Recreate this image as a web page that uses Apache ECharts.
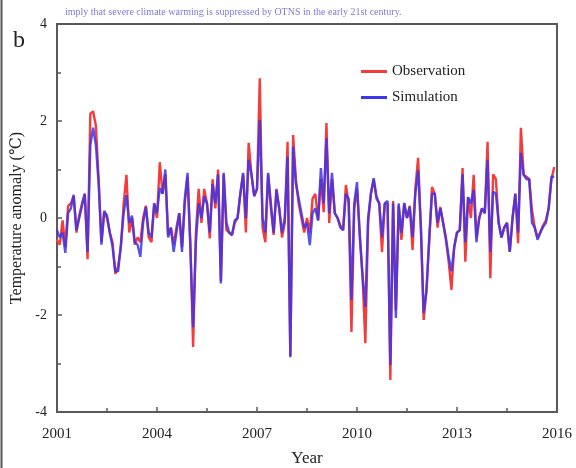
<!DOCTYPE html>
<html>
<head>
<meta charset="utf-8">
<script src="https://cdn.jsdelivr.net/npm/echarts@6/dist/echarts.min.js"></script>
<style>html,body{margin:0;padding:0;background:#fff;}#c{width:576px;height:468px;}</style>
</head>
<body>
<div id="c"></div>
<script>
// Monthly anomalies, Jan 2001 .. Dec 2015
const observation = [
  -0.45, -0.55, -0.05, -0.6, 0.25, 0.3, 0.45, -0.3, 0.05, 0.3, 0.5, -0.85,
  2.15, 2.2, 1.9, 0.8, -0.5, 0.12, 0.0, -0.3, -0.5, -1.15, -1.0, -0.6,
  0.3, 0.89, -0.3, 0.0, -0.55, -0.4, -0.5, 0.0, 0.25, -0.4, -0.5, 0.3,
  0.0, 1.15, 0.5, 0.9, -0.35, -0.2, -0.55, -0.2, 0.1, -0.6, 0.3, 0.85,
  -0.5, -2.66, -0.3, 0.6, -0.1, 0.6, 0.3, -0.42, 0.8, 0.2, 1.0, -1.3,
  0.9, -0.25, -0.3, -0.35, -0.1, 0.0, 0.5, 0.9, -0.3, 1.55, 0.9, 0.45,
  0.6, 2.88, -0.2, -0.5, 0.9, 0.2, -0.35, 0.6, 0.2, -0.4, -0.1, 1.57,
  -2.85, 1.71, 0.8, 0.3, 0.0, -0.3, 0.0, -0.3, 0.4, 0.5, -0.05, 0.8,
  0.12, 1.96, -0.1, 0.8, 0.1, 0.0, -0.15, -0.25, 0.68, 0.3, -2.35, 0.2,
  0.6, -0.3, -1.2, -2.58, -0.1, 0.5, 0.8, 0.4, 0.3, -0.7, 0.3, 0.3,
  -3.34, 0.35, -1.9, 0.25, -0.45, 0.3, 0.0, 0.25, -0.66, 0.6, 1.24, -0.2,
  -2.1, -1.5, -0.5, 0.64, 0.5, -0.2, 0.23, -0.1, -0.45, -0.9, -1.48, -0.6,
  -0.3, -0.25, 1.03, -0.9, 0.43, 0.0, 0.89, -0.4, 0.0, 0.2, 0.1, 1.57,
  -1.24, 0.9, 0.8, -0.1, -0.4, -0.2, -0.1, -0.7, 0.0, 0.5, -0.52, 1.86,
  0.89, 0.85, 0.8, 0.16, -0.2, -0.4, -0.3, -0.15, -0.05, 0.2, 0.8, 1.05
];
const simulation = [
  -0.25, -0.4, -0.3, -0.72, 0.1, 0.2, 0.48, -0.25, 0.0, 0.25, 0.5, -0.7,
  1.5, 1.86, 1.5, 0.7, -0.55, 0.15, 0.05, -0.3, -0.6, -1.1, -1.1, -0.55,
  0.1, 0.47, -0.1, 0.05, -0.5, -0.55, -0.8, -0.1, 0.23, -0.3, -0.4, 0.3,
  0.1, 0.62, 0.5, 1.0, -0.4, -0.2, -0.7, -0.3, 0.1, -0.7, 0.4, 0.93,
  -0.6, -2.25, -0.5, 0.3, 0.0, 0.45, 0.3, -0.3, 0.7, 0.3, 0.9, -1.35,
  0.93, -0.1, -0.3, -0.35, -0.05, 0.0, 0.5, 0.93, 0.0, 1.2, 0.9, 0.45,
  0.6, 2.02, 0.0, -0.3, 0.93, 0.3, -0.3, 0.58, 0.2, -0.3, 0.0, 1.26,
  -2.87, 1.47, 0.7, 0.4, 0.1, -0.2, -0.1, -0.56, 0.1, 0.2, -0.05, 1.03,
  0.3, 1.65, 0.1, 0.93, 0.1, 0.0, -0.2, -0.25, 0.5, 0.4, -1.69, 0.3,
  0.74, -0.4, -1.2, -1.83, 0.0, 0.5, 0.82, 0.45, 0.3, -0.4, 0.3, 0.35,
  -3.03, 0.3, -2.06, 0.3, -0.3, 0.31, 0.0, 0.23, -0.4, 0.5, 0.99, -0.2,
  -1.96, -1.5, -0.4, 0.5, 0.5, -0.1, 0.2, -0.1, -0.4, -0.8, -1.1, -0.6,
  -0.3, -0.25, 0.9, -0.5, 0.43, 0.3, 0.58, -0.5, 0.0, 0.2, 0.1, 1.2,
  -0.7, 0.54, 0.5, -0.1, -0.4, -0.2, -0.1, -0.7, 0.0, 0.5, -0.3, 1.34,
  0.89, 0.8, 0.8, -0.1, -0.2, -0.45, -0.3, -0.18, -0.1, 0.2, 0.85, 0.85
];
const startYear = 2001;
const xTickLabels = ['2001', '2004', '2007', '2010', '2013', '2016'];
const yTickLabels = ['-4', '-2', '0', '2', '4'];

const toPairs = arr => arr.map((v, i) => [startYear + i / 12, v]);
const serif = '"Liberation Serif", "DejaVu Serif", serif';
const axisCol = '#5a5a5a';

const chart = echarts.init(document.getElementById('c'));
chart.setOption({
  animation: false,
  backgroundColor: '#fff',
  grid: { left: 57, right: 19, top: 24, bottom: 56, outerBoundsMode: 'none', containLabel: false,
    show: true, borderColor: axisCol, borderWidth: 2, backgroundColor: 'transparent' },
  title: [
    { text: 'b', left: 8, top: 24, textStyle: { fontFamily: serif, fontSize: 24, fontWeight: 'normal', color: '#222' } },
    { text: 'imply that severe climate warming is suppressed by OTNS in the early 21st century.', left: 60, top: 2,
      textStyle: { fontFamily: serif, fontSize: 10, fontWeight: 'normal', color: '#7b7bd8' } }
  ],
  graphic: [
    { type: 'line', shape: { x1: 1.5, y1: 0, x2: 1.5, y2: 468 }, style: { stroke: '#555', lineWidth: 2 } }
  ],
  legend: {
    orient: 'vertical', left: 356, top: 59, itemGap: 11, itemWidth: 26, itemHeight: 3, icon: 'rect',
    textStyle: { fontFamily: serif, fontSize: 15, color: '#222' },
    data: ['Observation', 'Simulation']
  },
  xAxis: {
    type: 'value', min: 2001, max: 2016, interval: 3,
    name: 'Year', nameLocation: 'middle', nameGap: 38,
    nameTextStyle: { fontFamily: serif, fontSize: 17, color: '#222' },
    axisLine: { onZero: false, lineStyle: { color: axisCol, width: 2 } },
    axisTick: { inside: true, length: 5, lineStyle: { color: axisCol, width: 1.5 } },
    minorTick: { show: true, splitNumber: 2, length: 4, lineStyle: { color: axisCol, width: 1.5 } },
    splitLine: { show: false },
    axisLabel: { margin: 15, fontFamily: serif, fontSize: 15, color: '#222',
      formatter: v => xTickLabels[Math.round((v - 2001) / 3)] ?? '' }
  },
  yAxis: {
    type: 'value', min: -4, max: 4, interval: 2,
    name: 'Temperature anomaly (℃)', nameLocation: 'middle', nameGap: 31, nameRotate: 90,
    nameTextStyle: { fontFamily: serif, fontSize: 16, color: '#222' },
    axisLine: { show: true, onZero: false, lineStyle: { color: axisCol, width: 2 } },
    axisTick: { show: true, inside: true, length: 5, lineStyle: { color: axisCol, width: 1.5 } },
    minorTick: { show: true, splitNumber: 2, length: 4, lineStyle: { color: axisCol, width: 1.5 } },
    splitLine: { show: false },
    axisLabel: { margin: 10, fontFamily: serif, fontSize: 14, color: '#222',
      formatter: v => yTickLabels[Math.round((v + 4) / 2)] ?? '' }
  },
  series: [
    { name: 'Observation', type: 'line', data: toPairs(observation), showSymbol: false, symbol: 'none',
      lineStyle: { color: '#f43c3c', width: 2.4 }, itemStyle: { color: '#f43c3c' }, z: 2 },
    { name: 'Simulation', type: 'line', data: toPairs(simulation), showSymbol: false, symbol: 'none',
      lineStyle: { color: 'rgba(60,50,235,0.85)', width: 2.4 }, itemStyle: { color: '#3f35e8' }, z: 3 }
  ]
});
</script>
</body>
</html>
